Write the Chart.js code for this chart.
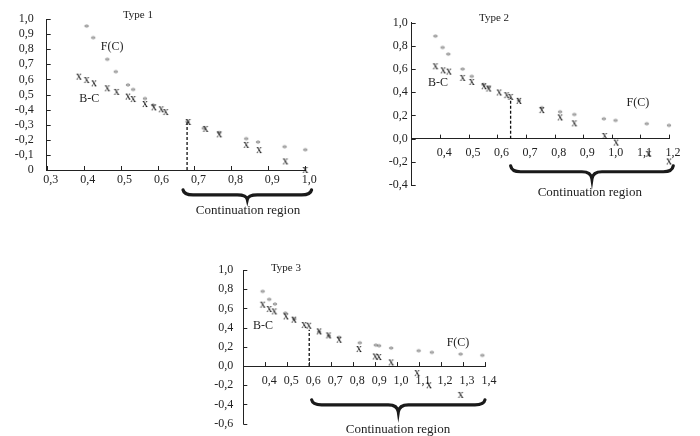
<!DOCTYPE html>
<html>
<head>
<meta charset="utf-8">
<script src="https://cdn.jsdelivr.net/npm/chart.js@4.4.1/dist/chart.umd.min.js"></script>
<style>
  body { margin: 0; background: #fff; }
  #wrap { position: relative; width: 700px; height: 436px; }
  #wrap canvas { position: absolute; left: 0; top: 0; }
</style>
</head>
<body>
<div id="wrap">
  <canvas id="type1" width="700" height="436"></canvas>
  <canvas id="type2" width="700" height="436"></canvas>
  <canvas id="type3" width="700" height="436"></canvas>
</div>
<script>
// ---- Type 1 ----
var fc1X = [0.408, 0.426, 0.464, 0.487, 0.52, 0.534, 0.566, 0.588, 0.681, 0.725, 0.767, 0.84, 0.872, 0.944, 1.0];
var fc1Y = [0.96, 0.883, 0.74, 0.658, 0.57, 0.54, 0.48, 0.437, 0.327, 0.283, 0.254, 0.214, 0.192, 0.161, 0.141];
var bc1X = [0.387, 0.408, 0.428, 0.464, 0.489, 0.52, 0.534, 0.566, 0.59, 0.61, 0.622, 0.683, 0.73, 0.767, 0.84, 0.875, 0.946, 1.0];
var bc1Y = [0.618, 0.596, 0.574, 0.541, 0.517, 0.486, 0.47, 0.437, 0.415, 0.402, 0.384, 0.318, 0.272, 0.236, 0.166, 0.132, 0.057, 0.0];
var cut1 = [0.68, 0.32];
var brace1 = [0.669, 1.017];
var xTicks1 = [0.3, 0.4, 0.5, 0.6, 0.7, 0.8, 0.9, 1.0];
var xLabels1 = ['0,3', '0,4', '0,5', '0,6', '0,7', '0,8', '0,9', '1,0'];
var yTicks1 = [0, 0.1, 0.2, 0.3, 0.4, 0.5, 0.6, 0.7, 0.8, 0.9, 1.0];
var yLabels1 = ['0', '-0,1', '-0,2', '-0,3', '-0,4', '0,5', '0,6', '0,7', '0,8', '0,9', '1,0'];

// ---- Type 2 ----
var fc2X = [0.383, 0.408, 0.428, 0.478, 0.51, 0.551, 0.57, 0.675, 0.755, 0.819, 0.869, 0.972, 1.013, 1.122, 1.2];
var fc2Y = [0.893, 0.795, 0.738, 0.609, 0.546, 0.475, 0.452, 0.338, 0.275, 0.24, 0.217, 0.18, 0.166, 0.137, 0.123];
var bc2X = [0.383, 0.41, 0.43, 0.478, 0.51, 0.553, 0.569, 0.606, 0.632, 0.646, 0.675, 0.755, 0.819, 0.869, 0.975, 1.015, 1.128, 1.2];
var bc2Y = [0.624, 0.589, 0.578, 0.524, 0.489, 0.452, 0.432, 0.398, 0.375, 0.36, 0.326, 0.246, 0.183, 0.132, 0.023, -0.034, -0.132, -0.197];
var cut2 = [0.646, 0.35];
var brace2 = [0.646, 1.215];
var xTicks2 = [0.4, 0.5, 0.6, 0.7, 0.8, 0.9, 1.0, 1.1, 1.2];
var xLabels2 = ['0,4', '0,5', '0,6', '0,7', '0,8', '0,9', '1,0', '1,1', '1,2'];
var yTicks2 = [-0.4, -0.2, 0, 0.2, 0.4, 0.6, 0.8, 1.0];
var yLabels2 = ['-0,4', '-0,2', '0,0', '0,2', '0,4', '0,6', '0,8', '1,0'];

// ---- Type 3 ----
var fc3X = [0.388, 0.418, 0.444, 0.491, 0.532, 0.645, 0.689, 0.736, 0.83, 0.903, 0.918, 0.973, 1.098, 1.158, 1.289, 1.388];
var fc3Y = [0.788, 0.705, 0.656, 0.5625, 0.5, 0.368, 0.326, 0.309, 0.253, 0.229, 0.222, 0.198, 0.17, 0.153, 0.135, 0.122];
var bc3X = [0.388, 0.418, 0.441, 0.494, 0.53, 0.577, 0.598, 0.645, 0.688, 0.736, 0.826, 0.9, 0.917, 0.973, 1.091, 1.145, 1.289];
var bc3Y = [0.639, 0.594, 0.569, 0.517, 0.483, 0.427, 0.42, 0.361, 0.319, 0.274, 0.177, 0.1, 0.094, 0.038, -0.073, -0.2, -0.3];
var cut3 = [0.6, 0.378];
var brace3 = [0.611, 1.4];
var xTicks3 = [0.4, 0.5, 0.6, 0.7, 0.8, 0.9, 1.0, 1.1, 1.2, 1.3, 1.4];
var xLabels3 = ['0,4', '0,5', '0,6', '0,7', '0,8', '0,9', '1,0', '1,1', '1,2', '1,3', '1,4'];
var yTicks3 = [-0.6, -0.4, -0.2, 0, 0.2, 0.4, 0.6, 0.8, 1.0];
var yLabels3 = ['-0,6', '-0,4', '-0,2', '0,0', '0,2', '0,4', '0,6', '0,8', '1,0'];

var SERIF = '"Liberation Serif", "Times New Roman", serif';

// small text glyphs used as point markers
function glyph(ch, color, size, lift) {
    var c = document.createElement('canvas');
    c.width = 16; c.height = 16;
    var g = c.getContext('2d');
    g.font = size + 'px ' + SERIF;
    g.fillStyle = color;
    g.textAlign = 'center';
    g.fillText(ch, 8, 8 + lift);
    return c;
}
var xMark = glyph('x', '#111', 12, 2.7);
var starMark = glyph('*', '#6f6f6f', 11, 5.6);

function pts(xs, ys) {
    return xs.map(function (v, i) { return { x: v, y: ys[i] }; });
}

// curly brace opening upwards
function drawBrace(ctx, x1, x2, y, h, q) {
    var xm = (x1 + x2) / 2, r = 10;
    ctx.beginPath();
    ctx.moveTo(x1, y);
    ctx.quadraticCurveTo(x1 + 1, y + q, x1 + r, y + q);
    ctx.lineTo(xm - r, y + q);
    ctx.quadraticCurveTo(xm - 1, y + q, xm, y + h);
    ctx.quadraticCurveTo(xm + 1, y + q, xm + r, y + q);
    ctx.lineTo(x2 - r, y + q);
    ctx.quadraticCurveTo(x2 - 1, y + q, x2, y);
    ctx.stroke();
}

var decor = {
    id: 'decor',
    afterDraw: function (chart, args, o) {
        var ctx = chart.ctx, sx = chart.scales.x, sy = chart.scales.y;
        var y0 = sy.getPixelForValue(0), xl = chart.chartArea.left;
        ctx.save();
        ctx.strokeStyle = '#222';
        ctx.lineWidth = 1;
        sx.ticks.forEach(function (t) {
            var px = Math.round(sx.getPixelForValue(t.value)) + 0.5;
            ctx.beginPath(); ctx.moveTo(px, y0); ctx.lineTo(px, y0 - 4); ctx.stroke();
        });
        sy.ticks.forEach(function (t) {
            var py = Math.round(sy.getPixelForValue(t.value)) + 0.5;
            ctx.beginPath(); ctx.moveTo(xl, py); ctx.lineTo(xl + 4, py); ctx.stroke();
        });
        // continuation brace
        ctx.strokeStyle = '#1a1a1a';
        ctx.lineWidth = 3.2;
        ctx.lineCap = 'round';
        drawBrace(ctx, sx.getPixelForValue(o.brace[0]), sx.getPixelForValue(o.brace[1]),
            sy.getPixelForValue(o.braceY), o.braceH, o.braceQ);
        // texts
        ctx.fillStyle = '#222';
        ctx.textAlign = 'center';
        ctx.textBaseline = 'middle';
        o.texts.forEach(function (t) {
            ctx.font = t.size + 'px ' + SERIF;
            ctx.fillText(t.text, sx.getPixelForValue(t.x), sy.getPixelForValue(t.y));
        });
        ctx.restore();
    }
};

function makeChart(id, p) {
    new Chart(document.getElementById(id), {
        type: 'scatter',
        data: {
            datasets: [{
                label: 'B-C',
                data: pts(p.bcX, p.bcY),
                pointStyle: xMark,
                clip: false
            }, {
                label: 'F(C)',
                data: pts(p.fcX, p.fcY),
                pointStyle: starMark,
                clip: false
            }, {
                type: 'line',
                label: 'cut',
                data: [{ x: p.cut[0], y: 0 }, { x: p.cut[0], y: p.cut[1] }],
                borderColor: '#111',
                borderWidth: 1.3,
                borderDash: [3, 2],
                pointRadius: 0,
                clip: false
            }]
        },
        options: {
            responsive: false,
            animation: false,
            events: [],
            layout: { padding: { left: 0, top: p.area.top, right: 700 - p.area.right, bottom: 436 - p.area.bottom } },
            scales: {
                x: {
                    type: 'linear',
                    position: { y: 0 },
                    min: p.xMin, max: p.xMax,
                    afterBuildTicks: function (s) { s.ticks = p.xTicks.map(function (v) { return { value: v }; }); },
                    afterFit: function (s) { s.height = 0; s.paddingLeft = 0; s.paddingRight = 0; },
                    grid: { display: false, drawTicks: false },
                    border: { color: '#222', width: 1 },
                    ticks: {
                        autoSkip: false, maxRotation: 0, minRotation: 0,
                        padding: p.xPad, labelOffset: 4,
                        color: '#222', font: { family: SERIF, size: 12 },
                        callback: function (v, i) { return p.xLabels[i]; }
                    }
                },
                y: {
                    type: 'linear',
                    position: 'left',
                    min: p.yMin, max: p.yMax,
                    afterBuildTicks: function (s) { s.ticks = p.yTicks.map(function (v) { return { value: v }; }); },
                    afterFit: function (s) { s.width = p.area.left; s.paddingTop = 0; s.paddingBottom = 0; },
                    grid: { display: false, drawTicks: false },
                    border: { color: '#222', width: 1 },
                    ticks: {
                        autoSkip: false, padding: p.yPad,
                        color: '#222', font: { family: SERIF, size: 12 },
                        callback: function (v, i) { return p.yLabels[i]; }
                    }
                }
            },
            plugins: {
                legend: { display: false },
                tooltip: { enabled: false },
                decor: {
                    brace: p.brace, braceY: p.braceY, braceH: p.braceH, braceQ: p.braceQ,
                    texts: p.texts
                }
            }
        },
        plugins: [decor]
    });
}

makeChart('type1', {
    fcX: fc1X, fcY: fc1Y, bcX: bc1X, bcY: bc1Y, cut: cut1, brace: brace1,
    xTicks: xTicks1, xLabels: xLabels1, yTicks: yTicks1, yLabels: yLabels1,
    xMin: 0.3, xMax: 1.0, yMin: 0, yMax: 1.0,
    area: { left: 46.7, top: 19, right: 305.3, bottom: 170 },
    xPad: 3, yPad: 13,
    braceY: -0.132, braceH: 9.5, braceQ: 5,
    texts: [
        { text: 'Type 1', x: 0.547, y: 1.026, size: 11 },
        { text: 'F(C)', x: 0.477, y: 0.815, size: 12 },
        { text: 'B-C', x: 0.415, y: 0.47, size: 12 },
        { text: 'Continuation region', x: 0.845, y: -0.27, size: 13 }
    ]
});

makeChart('type2', {
    fcX: fc2X, fcY: fc2Y, bcX: bc2X, bcY: bc2Y, cut: cut2, brace: brace2,
    xTicks: xTicks2, xLabels: xLabels2, yTicks: yTicks2, yLabels: yLabels2,
    xMin: 0.3, xMax: 1.2, yMin: -0.4, yMax: 1.0,
    area: { left: 411.7, top: 22.7, right: 669, bottom: 185 },
    xPad: 7, yPad: 4,
    braceY: -0.234, braceH: 13, braceQ: 6,
    texts: [
        { text: 'Type 2', x: 0.588, y: 1.036, size: 11 },
        { text: 'B-C', x: 0.392, y: 0.478, size: 12 },
        { text: 'F(C)', x: 1.091, y: 0.306, size: 12 },
        { text: 'Continuation region', x: 0.923, y: -0.466, size: 13 }
    ]
});

makeChart('type3', {
    fcX: fc3X, fcY: fc3Y, bcX: bc3X, bcY: bc3Y, cut: cut3, brace: brace3,
    xTicks: xTicks3, xLabels: xLabels3, yTicks: yTicks3, yLabels: yLabels3,
    xMin: 0.3, xMax: 1.4, yMin: -0.6, yMax: 1.0,
    area: { left: 243.3, top: 270, right: 485, bottom: 423.7 },
    xPad: 8, yPad: 10,
    braceY: -0.351, braceH: 12, braceQ: 5,
    texts: [
        { text: 'Type 3', x: 0.494, y: 1.024, size: 11 },
        { text: 'B-C', x: 0.39, y: 0.42, size: 12 },
        { text: 'F(C)', x: 1.277, y: 0.243, size: 12 },
        { text: 'Continuation region', x: 1.004, y: -0.66, size: 13 }
    ]
});
</script>
</body>
</html>
